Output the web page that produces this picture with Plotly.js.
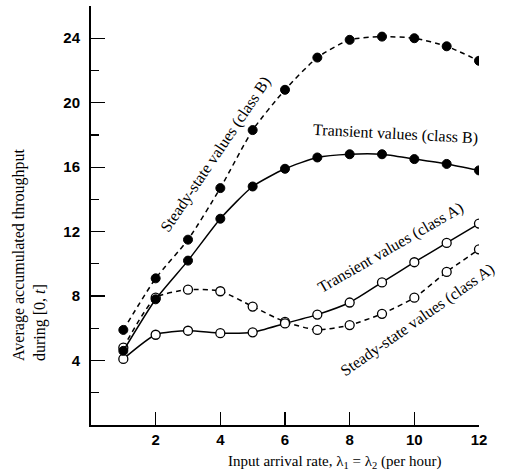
<!DOCTYPE html>
<html><head><meta charset="utf-8">
<script src="https://cdn.plot.ly/plotly-3.0.1.min.js"></script>
<style>html,body{margin:0;padding:0;background:#fff}#c{width:507px;height:476px}</style>
</head><body><div id="c"></div>
<script>
const rate = [1,2,3,4,5,6,7,8,9,10,11,12];
const steadyB    = [5.9, 9.1, 11.5, 14.7, 18.3, 20.8, 22.8, 23.9, 24.1, 24.0, 23.5, 22.6];
const transientB = [4.6, 7.8, 10.2, 12.8, 14.8, 15.9, 16.6, 16.8, 16.8, 16.5, 16.2, 15.8];
const steadyA    = [4.8, 7.9, 8.4, 8.3, 7.35, 6.4, 5.9, 6.2, 6.9, 7.9, 9.5, 10.9];
const transientA = [4.1, 5.6, 5.85, 5.7, 5.75, 6.3, 6.85, 7.6, 8.85, 10.1, 11.3, 12.5];
const xTicks = [2,4,6,8,10,12];
const yTicks = [4,8,12,16,20,24];

const serif = "Liberation Serif, DejaVu Serif, serif";
const line = (dash) => ({color:'#000', width:1.5, dash:dash, shape:'spline', smoothing:0.6});
const openM = {symbol:'circle', size:9, color:'#fff', line:{color:'#000', width:1.3}};
const fillM = {symbol:'circle', size:9, color:'#000', line:{color:'#000', width:1}};

const traces = [
  {x:rate, y:steadyA, mode:'lines+markers', line:line('5px,4px'), marker:openM},
  {x:rate, y:transientA, mode:'lines+markers', line:line('solid'), marker:openM},
  {x:rate, y:transientB, mode:'lines+markers', line:line('solid'), marker:fillM},
  {x:rate, y:steadyB, mode:'lines+markers', line:line('5px,4px'), marker:fillM}
];

const aFont = {family:serif, size:16, color:'#000'};
const layout = {
  width:507, height:476,
  margin:{l:91, r:28, t:6, b:51},
  paper_bgcolor:'#fff', plot_bgcolor:'#fff',
  showlegend:false,
  xaxis:{range:[0,12], tickvals:xTicks, ticktext:xTicks.map(String), ticks:'inside', ticklen:13, tickwidth:1.3, tickcolor:'#000',
    showline:true, linecolor:'#000', linewidth:2, showgrid:false, zeroline:false,
    tickfont:{family:'Liberation Sans, Arial, sans-serif', size:15, color:'#000', weight:'bold'}},
  yaxis:{range:[0,26], tickvals:yTicks, ticktext:yTicks.map(String), ticks:'inside', ticklen:14, tickwidth:1.3, tickcolor:'#000',
    showline:true, linecolor:'#000', linewidth:2, showgrid:false, zeroline:false, ticklabelstandoff:6,
    minor:{tickvals:[2,6,10,14,18,22,26], ticks:'inside', ticklen:8, tickwidth:1.2, tickcolor:'#000', showgrid:false},
    tickfont:{family:'Liberation Sans, Arial, sans-serif', size:15, color:'#000', weight:'bold'}},
  annotations:[
    {x:3.87, y:16.8, text:'Steady-state values (class B)', textangle:-56, showarrow:false, xanchor:'center', yanchor:'middle', font:aFont},
    {x:9.43, y:18.05, text:'Transient values (class B)', textangle:3, showarrow:false, xanchor:'center', yanchor:'middle', font:aFont},
    {x:9.25, y:11.0, text:'Transient values (class A)', textangle:-30, showarrow:false, xanchor:'center', yanchor:'middle', font:aFont},
    {x:10.1, y:6.5, text:'Steady-state values (class A)', textangle:-35, showarrow:false, xanchor:'center', yanchor:'middle', font:aFont},
    {xref:'paper', yref:'paper', x:(334-91)/388, y:(425-462)/419, xanchor:'center', yanchor:'middle', text:'Input arrival rate, λ<sub>1</sub> = λ<sub>2</sub> (per hour)', showarrow:false, font:{family:serif, size:15, color:'#000'}},
    {xref:'paper', yref:'paper', x:(29-91)/388, y:(425-255)/419, xanchor:'center', yanchor:'middle', text:'Average accumulated throughput<br>during [0, <i>t</i>]', align:'left', textangle:-90, showarrow:false, font:aFont}
  ]
};
Plotly.newPlot('c', traces, layout, {staticPlot:true});
</script></body></html>
